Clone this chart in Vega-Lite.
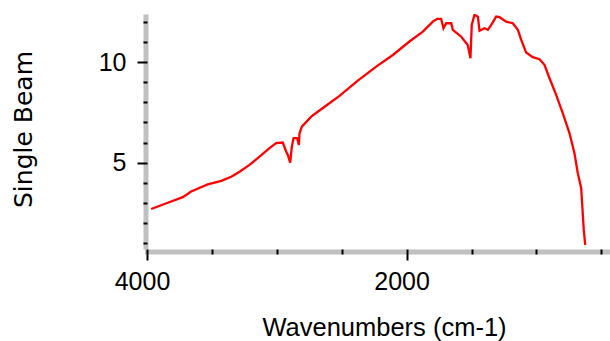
{
  "$schema": "https://vega.github.io/schema/vega-lite/v6.json",
  "width": 463,
  "height": 235,
  "autosize": {"type": "none"},
  "padding": {"left": 147, "top": 14, "right": 0, "bottom": 92},
  "background": "white",
  "config": {"view": {"stroke": null}},
  "data": {"values": [
    {"w": 3968, "v": 2.69}, {"w": 3850, "v": 2.98}, {"w": 3724, "v": 3.28}, {"w": 3660, "v": 3.56}, {"w": 3532, "v": 3.92},
    {"w": 3428, "v": 4.09}, {"w": 3351, "v": 4.30}, {"w": 3287, "v": 4.55}, {"w": 3210, "v": 4.89},
    {"w": 3133, "v": 5.30}, {"w": 3056, "v": 5.72}, {"w": 3005, "v": 5.97}, {"w": 2954, "v": 6.00},
    {"w": 2928, "v": 5.55}, {"w": 2915, "v": 5.38}, {"w": 2897, "v": 5.00}, {"w": 2884, "v": 5.80},
    {"w": 2871, "v": 6.22}, {"w": 2843, "v": 6.22}, {"w": 2830, "v": 5.88}, {"w": 2825, "v": 6.46},
    {"w": 2807, "v": 6.79}, {"w": 2735, "v": 7.29}, {"w": 2658, "v": 7.66}, {"w": 2517, "v": 8.32},
    {"w": 2376, "v": 9.08}, {"w": 2234, "v": 9.78}, {"w": 2106, "v": 10.36}, {"w": 1978, "v": 11.03},
    {"w": 1875, "v": 11.52}, {"w": 1798, "v": 12.02}, {"w": 1764, "v": 12.16}, {"w": 1734, "v": 12.16},
    {"w": 1716, "v": 11.69}, {"w": 1695, "v": 11.94}, {"w": 1656, "v": 11.94}, {"w": 1644, "v": 11.61},
    {"w": 1606, "v": 11.41}, {"w": 1579, "v": 11.27}, {"w": 1529, "v": 10.86}, {"w": 1508, "v": 10.20},
    {"w": 1498, "v": 11.86}, {"w": 1477, "v": 12.36}, {"w": 1451, "v": 12.27}, {"w": 1438, "v": 11.57},
    {"w": 1400, "v": 11.69}, {"w": 1374, "v": 11.61}, {"w": 1348, "v": 11.86}, {"w": 1310, "v": 12.27},
    {"w": 1284, "v": 12.24}, {"w": 1233, "v": 12.02}, {"w": 1182, "v": 11.94}, {"w": 1143, "v": 11.61},
    {"w": 1117, "v": 11.11}, {"w": 1079, "v": 10.48}, {"w": 1028, "v": 10.25}, {"w": 976, "v": 10.15},
    {"w": 938, "v": 9.87}, {"w": 899, "v": 9.20}, {"w": 848, "v": 8.37}, {"w": 797, "v": 7.46},
    {"w": 745, "v": 6.46}, {"w": 707, "v": 5.47}, {"w": 681, "v": 4.47}, {"w": 655, "v": 3.73},
    {"w": 647, "v": 2.89}, {"w": 635, "v": 1.65}, {"w": 624, "v": 0.90}
  ]},
  "layer": [
    {
      "mark": {"type": "line", "strokeOpacity": 0, "strokeWidth": 1},
      "encoding": {
        "x": {"field": "w", "type": "quantitative",
          "scale": {"domain": [4000, 433], "nice": false, "zero": false},
          "axis": {"orient": "bottom", "domain": true, "domainColor": "#c0c0c0", "domainWidth": 5, "domainCap": "square",
            "offset": 2.5, "ticks": false, "labels": false, "grid": false, "title": null, "zindex": 1}},
        "y": {"field": "v", "type": "quantitative",
          "scale": {"domain": [0.7, 12.4], "nice": false, "zero": false},
          "axis": {"orient": "left", "domain": true, "domainColor": "#c0c0c0", "domainWidth": 5,
            "offset": 1.5, "ticks": false, "labels": false, "grid": false, "title": null, "zindex": 1}}
      }
    },
    {
      "mark": {"type": "line", "color": "#ff0000", "strokeWidth": 2.3, "clip": true},
      "encoding": {
        "x": {"field": "w", "type": "quantitative",
          "scale": {"domain": [4000, 433], "nice": false, "zero": false},
          "axis": {"orient": "bottom", "domain": false, "grid": false, "zindex": 2,
            "values": [500, 1000, 1500, 2000, 2500, 3000, 3500, 4000],
            "format": "d",
            "labelExpr": "(datum.value === 4000 || datum.value === 2000) ? datum.label : ''",
            "tickColor": "#000", "tickWidth": 2,
            "tickSize": {"condition": {"test": "datum.value % 2000 === 0", "value": 11}, "value": 5},
            "labelPadding": 9, "labelOffset": -5,
            "labelFont": "Liberation Sans", "labelFontSize": 25, "labelColor": "#000", "labelFlush": false, "labelOverlap": false,
            "title": "Wavenumbers (cm-1)", "titleFont": "Liberation Sans", "titleFontSize": 25.5, "titleFontWeight": "normal",
            "titleColor": "#000", "titleX": 237, "titleY": 86, "titleAlign": "center", "titleBaseline": "alphabetic"}},
        "y": {"field": "v", "type": "quantitative",
          "scale": {"domain": [0.7, 12.4], "nice": false, "zero": false},
          "axis": {"orient": "left", "domain": false, "grid": false, "zindex": 2,
            "values": [1, 2, 3, 4, 5, 6, 7, 8, 9, 10, 11, 12],
            "format": "d",
            "labelExpr": "(datum.value === 5 || datum.value === 10) ? datum.label : ''",
            "tickColor": "#000", "tickWidth": 2,
            "tickSize": {"condition": {"test": "datum.value % 5 === 0", "value": 10}, "value": 4},
            "labelPadding": 11,
            "labelFont": "Liberation Sans", "labelFontSize": 25, "labelColor": "#000", "labelFlush": false, "labelOverlap": false,
            "title": "Single Beam", "titleFont": "DejaVu Sans", "titleFontSize": 25, "titleFontWeight": "normal",
            "titleColor": "#000", "titleAngle": -90, "titleX": -116, "titleY": 115, "titleAlign": "center", "titleBaseline": "alphabetic"}}
      }
    }
  ],
  "resolve": {"axis": {"x": "independent", "y": "independent"}}
}
